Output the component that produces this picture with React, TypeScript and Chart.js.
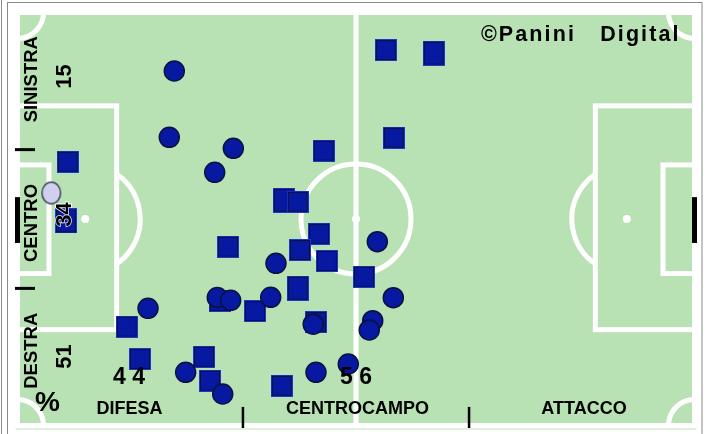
import React, { useEffect, useRef } from "react";
import { Chart, registerables } from "chart.js";

Chart.register(...registerables);

// ---- DATA (field coordinates: x 0-100 along length, y 0-100 across width) ----
const squareX = [54.4, 55.57, 45.23, 41.39, 7.42, 31.09, 44.53, 41.73, 45.69, 35.08, 44.09, 29.87, 51.18, 16.13, 18.09, 27.55, 28.43, 39.03];
const squareY = [90.92, 69.69, 66.54, 54.19, 63.87, 43.29, 46.44, 42.49, 39.83, 27.72, 25.06, 30.15, 36.03, 23.92, 16.1, 16.66, 10.85, 9.61];
const tallSquareX = [61.48, 39.32, 41.39, 7.16];
const tallSquareY = [90.15, 54.53, 33.24, 49.52];
const circleX = [23.16, 22.42, 31.88, 29.13, 19.28, 38.18, 29.51, 31.49, 37.4, 43.68, 53.15, 55.51, 52.47, 51.96, 48.86, 44.09, 24.84, 30.31];
const circleY = [85.84, 69.78, 67.12, 61.31, 28.38, 39.27, 30.99, 30.31, 31.04, 24.53, 44.5, 30.94, 25.38, 23.12, 14.89, 12.88, 12.88, 7.63];
const ballX = [4.99];
const ballY = [56.3];

const laneLabels = ["SINISTRA", "CENTRO", "DESTRA"];
const laneValues = ["15", "34", "51"];
const thirdLabels = ["DIFESA", "CENTROCAMPO", "ATTACCO"];
const thirdValues = ["4 4", "5 6"];
const brandText = "©Panini   Digital";
const unitText = "%";

// ---- layout / style constants ----
const FONT = '"Liberation Sans", Arial, Helvetica, sans-serif';
const GREEN = "#b8e1b4";
const BLUE = "#0619a0";
const laneLabelY = [83.85, 49.03, 18.09];
const laneValueY = [84.5, 51.09, 16.71];
const thirdCenterX = [16.54, 50.22, 83.68];
const thirdValueX = [16.47, 50.0];

function toPoints(xs: number[], ys: number[]) {
  return xs.map((x, i) => ({ x, y: ys[i] }));
}

function makeSquare(w: number, h: number) {
  const c = document.createElement("canvas");
  c.width = w;
  c.height = h;
  const g = c.getContext("2d")!;
  g.fillStyle = "#1a38d4";
  g.fillRect(0, 0, w, h);
  g.fillStyle = "#0a0d3a";
  g.fillRect(1, 1, w - 2, h - 2);
  g.fillStyle = BLUE;
  g.fillRect(2, 2, w - 4, h - 4);
  return c;
}

function makeBall() {
  const c = document.createElement("canvas");
  c.width = 22;
  c.height = 25;
  const g = c.getContext("2d")!;
  g.beginPath();
  g.ellipse(11, 12.5, 9.3, 10.8, 0, 0, Math.PI * 2);
  g.fillStyle = "#d0d0ee";
  g.fill();
  g.lineWidth = 1.3;
  g.strokeStyle = "#2a2a48";
  g.stroke();
  return c;
}

const pitchPlugin = {
  id: "pitch",
  beforeDatasetsDraw(chart: any) {
    const { ctx, chartArea: a, scales } = chart;
    const X = (v: number) => scales.x.getPixelForValue(v);
    const Y = (v: number) => scales.y.getPixelForValue(v);
    const H = chart.height;
    ctx.save();
    // frame
    ctx.strokeStyle = "#8a8a8a";
    ctx.lineWidth = 1;
    ctx.beginPath();
    ctx.moveTo(1.5, 0);
    ctx.lineTo(1.5, H);
    ctx.stroke();
    ctx.strokeRect(7.5, 2.5, 694.5, H + 20);
    // green
    ctx.fillStyle = GREEN;
    ctx.fillRect(a.left, a.top, a.right - a.left, a.bottom - a.top);
    ctx.strokeStyle = "#d3ecd0";
    ctx.lineWidth = 1.5;
    ctx.beginPath();
    ctx.moveTo(a.left - 2, a.bottom + 3.5);
    ctx.lineTo(a.right + 2, a.bottom + 3.5);
    ctx.stroke();

    ctx.strokeStyle = "#ffffff";
    ctx.fillStyle = "#ffffff";
    ctx.lineWidth = 5;
    const pxR = (d: number) => X(d) - X(0);
    // corner arcs
    const rc = pxR(3.84);
    const corners: [number, number, number, number][] = [
      [X(0), Y(100), 0, Math.PI / 2],
      [X(100), Y(100), Math.PI / 2, Math.PI],
      [X(0), Y(0), -Math.PI / 2, 0],
      [X(100), Y(0), Math.PI, 1.5 * Math.PI],
    ];
    corners.forEach(([cx, cy, s, e]) => {
      ctx.beginPath();
      ctx.arc(cx, cy, rc, s, e);
      ctx.stroke();
    });
    // boundary
    ctx.strokeRect(a.left, a.top, a.right - a.left, a.bottom - a.top);
    // halfway
    ctx.beginPath();
    ctx.moveTo(X(50), a.top);
    ctx.lineTo(X(50), a.bottom);
    ctx.stroke();
    const rCircle = pxR(8.12);
    ctx.beginPath();
    ctx.arc(X(50), Y(50), rCircle, 0, Math.PI * 2);
    ctx.stroke();
    // boxes
    const boxD = 14.65, boxT = 77.4, boxB = 23.2;
    const gaD = 4.65, gaT = 63.1, gaB = 36.8;
    ctx.strokeRect(X(0), Y(boxT), X(boxD) - X(0), Y(boxB) - Y(boxT));
    ctx.strokeRect(X(100 - boxD), Y(boxT), X(100) - X(100 - boxD), Y(boxB) - Y(boxT));
    ctx.strokeRect(X(0), Y(gaT), X(gaD) - X(0), Y(gaB) - Y(gaT));
    ctx.strokeRect(X(100 - gaD), Y(gaT), X(100) - X(100 - gaD), Y(gaB) - Y(gaT));
    // penalty arcs
    const th1 = Math.acos((X(boxD) - X(10)) / rCircle);
    ctx.beginPath();
    ctx.arc(X(10), Y(50), rCircle, -th1, th1);
    ctx.stroke();
    const th2 = Math.acos((X(90) - X(100 - boxD)) / rCircle);
    ctx.beginPath();
    ctx.arc(X(90), Y(50), rCircle, Math.PI - th2, Math.PI + th2);
    ctx.stroke();
    // spots
    [10, 50, 90].forEach((sx) => {
      ctx.beginPath();
      ctx.arc(X(sx), Y(50), 4, 0, Math.PI * 2);
      ctx.fill();
    });
    // goals (black marks)
    ctx.strokeStyle = "#000";
    ctx.lineWidth = 5;
    [0, 100].forEach((gx) => {
      ctx.beginPath();
      ctx.moveTo(X(gx), Y(55.3));
      ctx.lineTo(X(gx), Y(44.2));
      ctx.stroke();
    });
    // lane ticks
    ctx.lineWidth = 3;
    [66.8, 33.2].forEach((ty) => {
      ctx.beginPath();
      ctx.moveTo(X(0) - 2.5, Y(ty));
      ctx.lineTo(X(0) + 17.5, Y(ty));
      ctx.stroke();
    });
    // third ticks
    ctx.lineWidth = 2.5;
    [33.3, 66.7].forEach((tx) => {
      ctx.beginPath();
      ctx.moveTo(X(tx), Y(4.5));
      ctx.lineTo(X(tx), a.bottom + 2.5);
      ctx.stroke();
    });
    ctx.restore();
  },
  afterDatasetsDraw(chart: any) {
    const { ctx, scales } = chart;
    const X = (v: number) => scales.x.getPixelForValue(v);
    const Y = (v: number) => scales.y.getPixelForValue(v);
    ctx.save();
    ctx.fillStyle = "#000";
    ctx.textAlign = "center";
    ctx.textBaseline = "middle";
    const rot = (t: string, x: number, y: number, font: string, halo = false) => {
      ctx.save();
      ctx.translate(x, y);
      ctx.rotate(-Math.PI / 2);
      ctx.font = font;
      if (halo) {
        ctx.strokeStyle = "rgba(255,255,255,0.85)";
        ctx.lineWidth = 1.6;
        ctx.strokeText(t, 0, 0);
      }
      ctx.fillText(t, 0, 0);
      ctx.restore();
    };
    laneLabels.forEach((t, i) => rot(t, X(2.14), Y(laneLabelY[i]), `bold 18.5px ${FONT}`));
    laneValues.forEach((t, i) => rot(t, X(7.02), Y(laneValueY[i]), `bold 22px ${FONT}`, i === 1));
    ctx.font = `bold 23px ${FONT}`;
    thirdValues.forEach((t, i) => ctx.fillText(t, X(thirdValueX[i]), Y(11.5)));
    ctx.font = `bold 18px ${FONT}`;
    thirdLabels.forEach((t, i) => ctx.fillText(t, X(thirdCenterX[i]), Y(4.1)));
    ctx.font = `bold 28px ${FONT}`;
    ctx.fillText(unitText, X(4.43), Y(5.4));
    ctx.textAlign = "left";
    ctx.textBaseline = "alphabetic";
    ctx.font = `bold 21.5px ${FONT}`;
    (ctx as any).letterSpacing = "2.1px";
    ctx.fillText(brandText, X(68.45), Y(93.2));
    ctx.restore();
  },
};

export default function App() {
  const ref = useRef<HTMLCanvasElement | null>(null);
  useEffect(() => {
    if (!ref.current) return;
    const squareImg = makeSquare(22, 22);
    const tallImg = makeSquare(22, 25);
    const ballImg = makeBall();
    const chart = new Chart(ref.current, {
      type: "scatter",
      data: {
        datasets: [
          {
            label: "ball",
            data: toPoints(ballX, ballY),
            pointStyle: ballImg as any,
            pointRadius: 11,
            order: 1,
          },
          {
            label: "circles",
            data: toPoints(circleX, circleY),
            pointStyle: "circle",
            pointRadius: 10,
            borderWidth: 1.5,
            backgroundColor: BLUE,
            borderColor: "#0b1040",
            order: 2,
          },
          {
            label: "squares",
            data: toPoints(squareX, squareY),
            pointStyle: squareImg as any,
            pointRadius: 11,
            order: 3,
          },
          {
            label: "tallSquares",
            data: toPoints(tallSquareX, tallSquareY),
            pointStyle: tallImg as any,
            pointRadius: 11,
            order: 4,
          },
        ],
      },
      options: {
        responsive: false,
        animation: false,
        devicePixelRatio: 1,
        events: [],
        layout: { autoPadding: false, padding: { left: 17.5, right: 15.5, top: 12.5, bottom: 8.5 } },
        scales: {
          x: { type: "linear", min: 0, max: 100, display: false },
          y: { type: "linear", min: 0, max: 100, display: false },
        },
        plugins: { legend: { display: false }, tooltip: { enabled: false } },
      },
      plugins: [pitchPlugin],
    });
    return () => chart.destroy();
  }, []);
  return (
    <div style={{ position: "fixed", left: 0, top: 0, width: 710, height: 434, background: "#fff" }}>
      <canvas ref={ref} width={710} height={434} style={{ display: "block", width: 710, height: 434 }} />
    </div>
  );
}
